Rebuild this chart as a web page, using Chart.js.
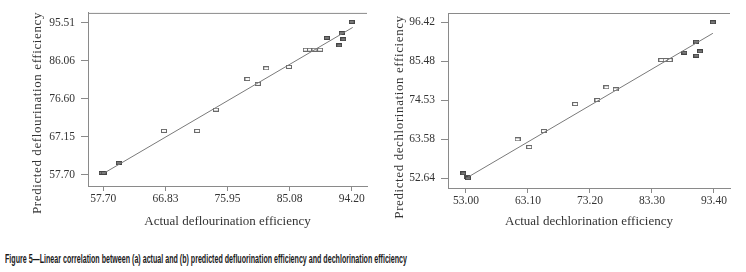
<!DOCTYPE html>
<html>
<head>
<meta charset="utf-8">
<script src="https://cdn.jsdelivr.net/npm/chart.js@4/dist/chart.umd.min.js"></script>
<style>
  body { margin: 0; background: #fff; width: 746px; height: 272px; position: relative; overflow: hidden; }
  .box { position: absolute; top: 0; width: 373px; height: 230px; }
  #caption { position: absolute; left: 5px; top: 252px; white-space: nowrap; font: bold 12px "Liberation Sans Narrow", "Liberation Sans", sans-serif; color: #1a1a1a; transform-origin: 0 0; }
</style>
</head>
<body>
<div class="box" style="left:0"><canvas id="chartF" width="373" height="230"></canvas></div>
<div class="box" style="left:373px"><canvas id="chartC" width="373" height="230"></canvas></div>
<div id="caption">Figure 5—Linear correlation between (a) actual and (b) predicted defluorination efficiency and dechlorination efficiency</div>
<script>
  // (a) defluorination
  const xTicksF = [57.70, 66.83, 75.95, 85.08, 94.20];
  const yTicksF = [57.70, 67.15, 76.60, 86.06, 95.51];
  const actualOpenF = [66.61, 71.49, 74.25, 78.88, 80.40, 81.64, 84.98, 87.45, 88.08, 88.73, 89.56];
  const predOpenF   = [68.57, 68.57, 73.86, 81.49, 80.27, 84.16, 84.50, 88.79, 88.79, 88.79, 88.79];
  const actualFillF = [57.45, 57.74, 59.96, 90.55, 92.37, 92.72, 92.96, 94.20];
  const predFillF   = [58.09, 58.09, 60.62, 91.72, 89.87, 92.94, 91.40, 95.71];
  const fitXF = [57.65, 94.35];
  const fitYF = [57.90, 94.33];

  // (b) dechlorination
  const xTicksC = [53.00, 63.10, 73.20, 83.30, 93.40];
  const yTicksC = [52.64, 63.58, 74.53, 85.48, 96.42];
  const actualOpenC = [61.41, 63.30, 65.69, 70.78, 74.42, 75.88, 77.40, 84.83, 85.53, 86.18];
  const predOpenC   = [63.58, 61.42, 65.91, 73.49, 74.61, 78.18, 77.62, 85.84, 85.84, 85.84];
  const actualFillC = [52.56, 53.11, 53.33, 88.57, 90.46, 90.52, 91.11, 93.22];
  const predFillC   = [54.04, 53.09, 52.64, 87.89, 90.98, 87.05, 88.28, 96.42];
  const fitXC = [53.28, 93.22];
  const fitYC = [52.92, 93.33];

  const serif = "'Liberation Serif', 'Times New Roman', serif";
  const axisColor = "#8a8a8a";

  // small rectangle marker
  function marker(fill, stroke) {
    const c = document.createElement("canvas");
    c.width = 6; c.height = 4;
    const g = c.getContext("2d");
    g.fillStyle = fill;
    g.fillRect(0, 0, 6, 4);
    g.strokeStyle = stroke;
    g.lineWidth = 1;
    g.strokeRect(0.5, 0.5, 5, 3);
    return c;
  }
  const openMark = marker("#ffffff", "#6a6a6a");
  const fillMark = marker("#7a7a7a", "#454545");

  function pts(xs, ys) {
    return xs.map((x, i) => ({ x: x, y: ys[i] }));
  }

  // top border line + rotated y title
  const framePlugin = {
    id: "frame",
    afterDraw(chart, args, opts) {
      const ctx = chart.ctx, a = chart.chartArea;
      ctx.save();
      ctx.strokeStyle = axisColor;
      ctx.lineWidth = 1;
      ctx.beginPath();
      ctx.moveTo(a.left, a.top + 0.5);
      ctx.lineTo(a.right, a.top + 0.5);
      ctx.stroke();
      ctx.translate(opts.tx, opts.ty);
      ctx.rotate(-Math.PI / 2);
      ctx.font = "13px " + serif;
      ctx.letterSpacing = "0.6px";
      ctx.fillStyle = "#333";
      ctx.textAlign = "center";
      ctx.textBaseline = "middle";
      ctx.fillText(opts.text, 0, 0);
      ctx.restore();
    }
  };

  function makeChart(id, cfg) {
    const ctx = document.getElementById(id).getContext("2d");
    return new Chart(ctx, {
      type: "scatter",
      data: {
        datasets: [
          {
            type: "line",
            data: pts(cfg.fitX, cfg.fitY),
            borderColor: "#7a7a7a",
            borderWidth: 1,
            pointRadius: 0,
            fill: false
          },
          {
            data: pts(cfg.openX, cfg.openY),
            pointStyle: openMark
          },
          {
            data: pts(cfg.fillX, cfg.fillY),
            pointStyle: fillMark
          }
        ]
      },
      options: {
        responsive: false,
        animation: false,
        events: [],
        layout: { padding: { top: cfg.padTop, right: cfg.padRight, left: 0, bottom: 0 } },
        plugins: {
          legend: { display: false },
          tooltip: { enabled: false },
          frame: { text: cfg.yTitle, tx: cfg.ytx, ty: cfg.yty }
        },
        scales: {
          x: {
            type: "linear",
            min: cfg.xMin, max: cfg.xMax,
            afterBuildTicks: s => { s.ticks = cfg.xTicks.map(v => ({ value: v })); },
            afterFit: s => { s.height = cfg.xH; },
            ticks: { callback: v => v.toFixed(2), font: { family: serif, size: 11.5 }, color: "#333", padding: 1, maxRotation: 0 },
            grid: { drawOnChartArea: false, drawTicks: true, tickLength: 5, color: axisColor },
            border: { display: true, color: axisColor },
            title: { display: true, text: cfg.xTitle, font: { family: serif, size: 13 }, color: "#333", padding: { top: 0, bottom: 1 } }
          },
          y: {
            type: "linear",
            min: cfg.yMin, max: cfg.yMax,
            afterBuildTicks: s => { s.ticks = cfg.yTicks.map(v => ({ value: v })); },
            afterFit: s => { s.width = cfg.yW; },
            ticks: { callback: v => v.toFixed(2), font: { family: serif, size: 11.5 }, color: "#333", padding: 6 },
            grid: { drawOnChartArea: false, drawTicks: true, tickLength: 7, color: axisColor },
            border: { display: true, color: axisColor }
          }
        }
      },
      plugins: [framePlugin]
    });
  }

  makeChart("chartF", {
    fitX: fitXF, fitY: fitYF,
    openX: actualOpenF, openY: predOpenF,
    fillX: actualFillF, fillY: predFillF,
    xTicks: xTicksF, yTicks: yTicksF,
    xMin: 55.45, xMax: 96.45, yMin: 54.85, yMax: 97.95,
    padTop: 9, padRight: 6, xH: 44, yW: 88,
    xTitle: "Actual deflourination efficiency",
    yTitle: "Predicted deflourination efficiency",
    ytx: 38, yty: 113
  });

  makeChart("chartC", {
    fitX: fitXC, fitY: fitYC,
    openX: actualOpenC, openY: predOpenC,
    fillX: actualFillC, fillY: predFillC,
    xTicks: xTicksC, yTicks: yTicksC,
    xMin: 50.07, xMax: 96.01, yMin: 49.92, yMax: 99.03,
    padTop: 13, padRight: 16, xH: 42, yW: 75,
    xTitle: "Actual dechlorination efficiency",
    yTitle: "Predicted dechlorination efficiency",
    ytx: 27, yty: 117
  });

  // fit caption width to the reference
  const cap = document.getElementById("caption");
  const w = cap.getBoundingClientRect().width;
  cap.style.transform = "scaleX(" + (402 / w) + ")";
</script>
</body>
</html>
